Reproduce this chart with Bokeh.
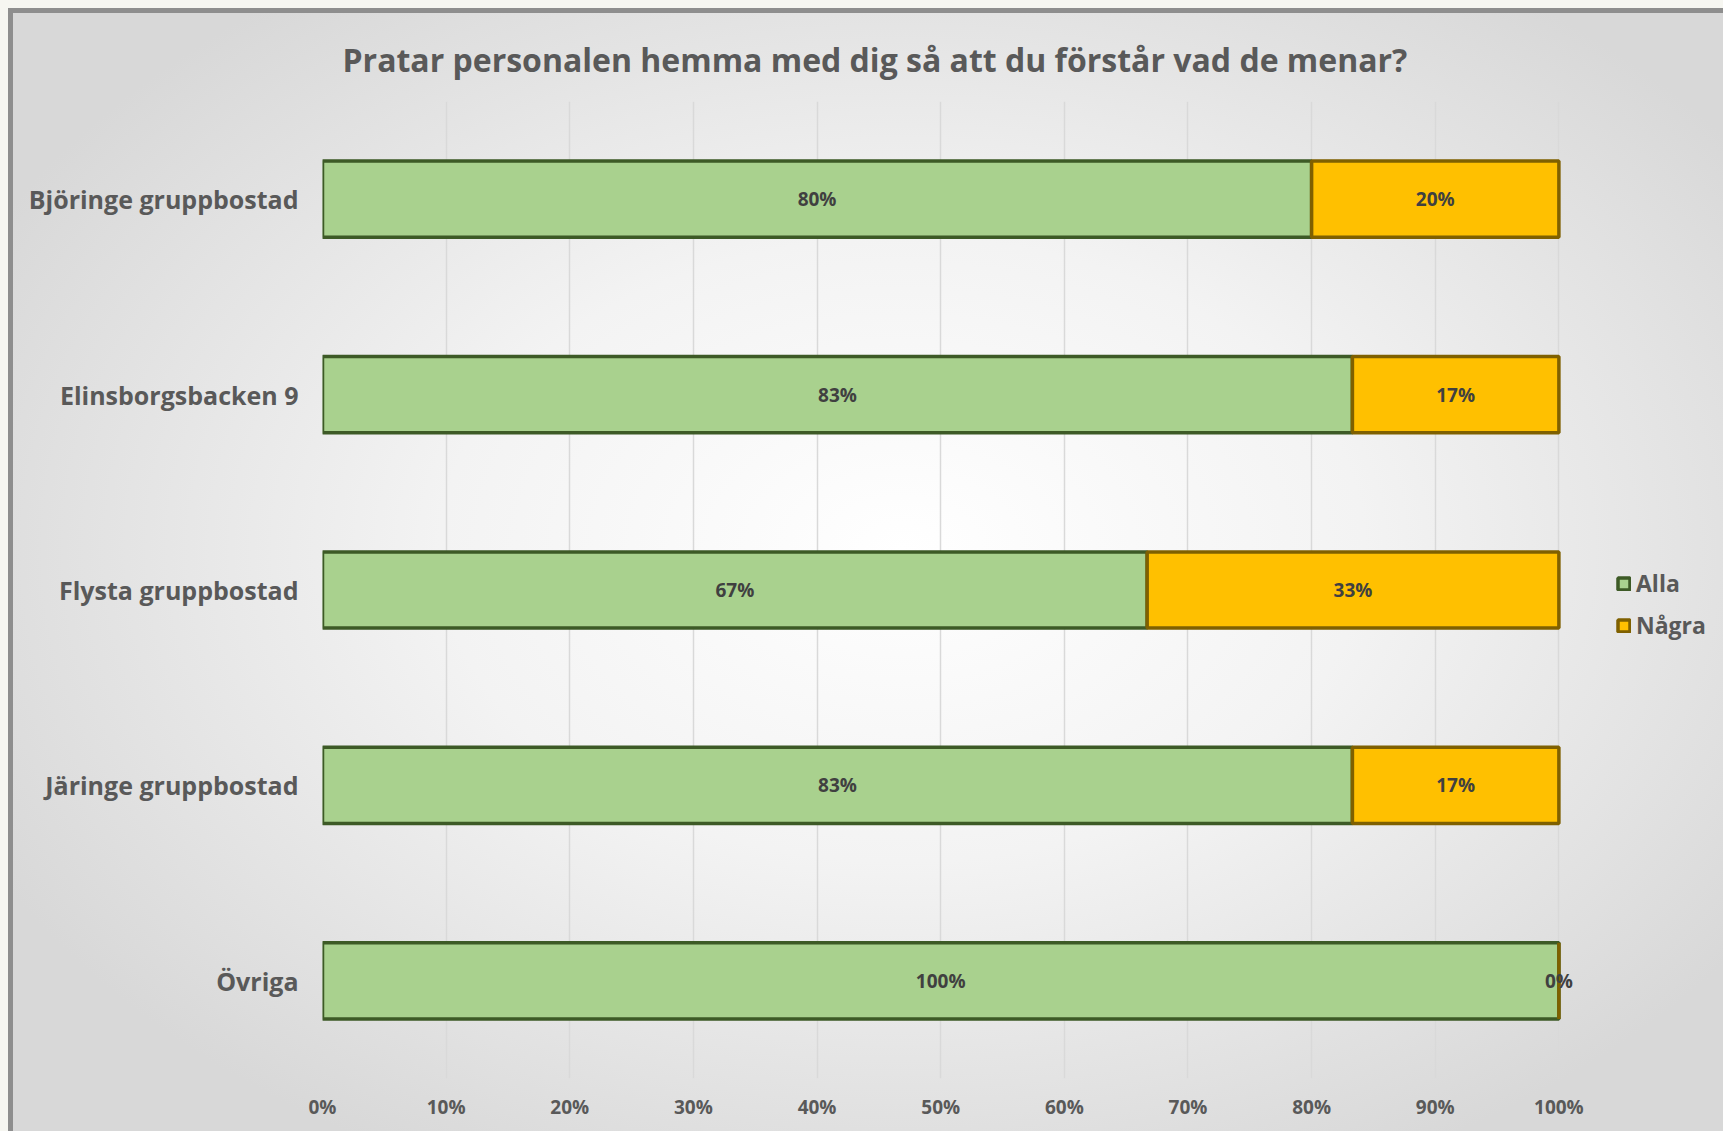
from bokeh.plotting import figure
from bokeh.models import (FactorRange, Range1d, ColumnDataSource, Legend, LegendItem,
                          FixedTicker, NumeralTickFormatter)
from bokeh.core.properties import value
from bokeh.embed import file_html
from bokeh.resources import INLINE

# ---- data ----
categories = ["Björinge gruppbostad", "Elinsborgsbacken 9", "Flysta gruppbostad",
              "Järinge gruppbostad", "Övriga"]
alla = [0.80, 0.833, 0.667, 0.833, 1.00]
nagra = [0.20, 0.167, 0.333, 0.167, 0.00]
series_names = ["Alla", "Några"]
title_text = "Pratar personalen hemma med dig så att du förstår vad de menar?"
x_ticks = [0, 0.1, 0.2, 0.3, 0.4, 0.5, 0.6, 0.7, 0.8, 0.9, 1.0]

FONT = "Open Sans"
TXT = "#595959"

# layout (pixels)
BORDER = 5
CANVAS_W, CANVAS_H = 1715, 1123
LEFT, TOP, BOTTOM = 309, 88, 58
AXIS_100_PX = 1232            # pixel length of 0..100 %
frame_w = CANVAS_W - BORDER - LEFT
x_end = frame_w / AXIS_100_PX  # frame reaches the right edge, legend sits inside it

src = ColumnDataSource(dict(
    cat=categories,
    alla_left=[0.0] * len(alla),
    alla_right=alla,
    nagra_left=alla,
    nagra_right=[a + n for a, n in zip(alla, nagra)],
    alla_mid=[a / 2 for a in alla],
    nagra_mid=[a + n / 2 for a, n in zip(alla, nagra)],
    alla_lbl=[f"{round(a*100)}%" for a in alla],
    nagra_lbl=[f"{round(n*100)}%" for n in nagra],
))

p = figure(width=CANVAS_W, height=CANVAS_H, output_backend="svg", toolbar_location=None,
           y_range=FactorRange(factors=list(reversed(categories))),
           x_range=Range1d(0, x_end),
           min_border_left=LEFT, min_border_right=0, min_border_top=TOP,
           min_border_bottom=BOTTOM)

p.background_fill_alpha = 0
p.border_fill_alpha = 0
p.outline_line_color = None
p.styles = {
    "background": "radial-gradient(ellipse 60% 62% at 52% 48%, #ffffff 0%, #f3f3f3 45%, #d8d8d8 100%)",
    "border-top": f"{BORDER}px solid #8e8e8e",
    "border-left": f"{BORDER}px solid #8e8e8e",
}

r1 = p.hbar(y="cat", left="alla_left", right="alla_right", height=0.39, source=src,
            fill_color="#A9D18E", line_color="#3D5A26", line_width=3.5)
r2 = p.hbar(y="cat", left="nagra_left", right="nagra_right", height=0.39, source=src,
            fill_color="#FFC000", line_color="#7F6000", line_width=3.5)

for xcol, tcol in (("alla_mid", "alla_lbl"), ("nagra_mid", "nagra_lbl")):
    p.text(x=xcol, y="cat", text=tcol, source=src, text_align="center",
           text_baseline="middle", text_font=value(FONT), text_font_style="bold",
           text_font_size="19px", text_color="#404040")

# axes
p.xaxis.ticker = FixedTicker(ticks=x_ticks)
p.xaxis.formatter = NumeralTickFormatter(format="0%")
p.xaxis.axis_line_color = None
p.xaxis.major_tick_line_color = None
p.xaxis.minor_tick_line_color = None
p.xaxis.major_label_text_font = FONT
p.xaxis.major_label_text_font_style = "bold"
p.xaxis.major_label_text_font_size = "19px"
p.xaxis.major_label_text_color = TXT
p.xaxis.major_label_standoff = 9

p.yaxis.axis_line_color = None
p.yaxis.major_tick_line_color = None
p.yaxis.major_label_text_font = FONT
p.yaxis.major_label_text_font_style = "bold"
p.yaxis.major_label_text_font_size = "25px"
p.yaxis.major_label_text_color = TXT
p.yaxis.major_label_standoff = 18

p.xgrid.grid_line_color = "#d9d9d9"
p.xgrid.grid_line_width = 1.5
p.ygrid.grid_line_color = None

# title
p.title.text = title_text
p.title.align = "left"
p.title.offset = 20
p.title.standoff = 42
p.title.text_font = FONT
p.title.text_font_style = "bold"
p.title.text_font_size = "32px"
p.title.text_color = TXT

legend = Legend(items=[LegendItem(label=series_names[0], renderers=[r1]),
                       LegendItem(label=series_names[1], renderers=[r2])],
                location=(1294, 437), glyph_width=15, glyph_height=15,
                label_text_font=FONT, label_text_font_style="bold",
                label_text_font_size="23px", label_text_color=TXT,
                label_height=26, spacing=10, padding=0, margin=0, label_standoff=5,
                background_fill_alpha=0, border_line_color=None)
p.add_layout(legend, "center")

html = file_html(p, INLINE)
page_css = ("<style>html, body { margin: 0 !important; padding: 0 !important; "
            "overflow: hidden !important; background: #f6f6f1 !important; } "
            "body { padding: 8px 0 0 8px !important; }</style>")
html = html.replace("</head>", page_css + "</head>", 1)
open("out.html", "w").write(html)
